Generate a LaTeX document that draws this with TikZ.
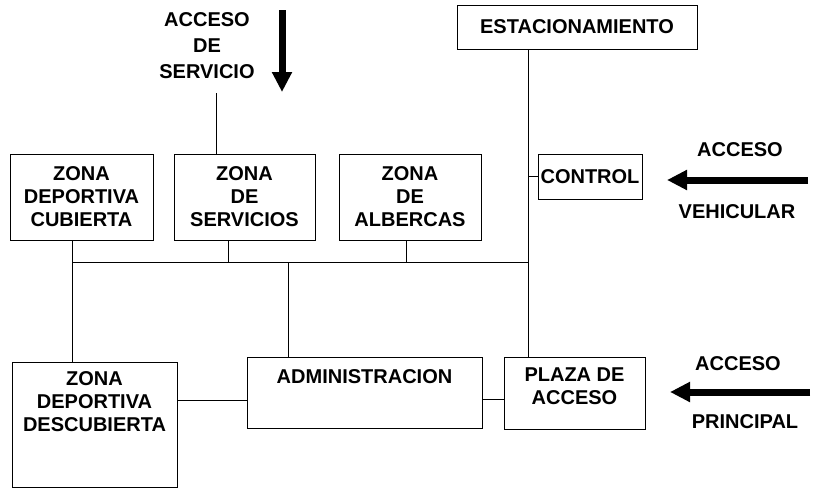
\documentclass[tikz,border=0pt]{standalone}
\usepackage{fontspec}
\setmainfont{Liberation Sans}
\usetikzlibrary{positioning,
                arrows.meta}
\tikzset{zone/.style =
   {rectangle,
    draw,
    line width=0.8pt,
    align=center,
    inner sep=2pt}}
\tikzset{boxtext/.style = {align=center, inner sep=3pt}}
\tikzset{link/.style = {draw, line width=0.8pt}}
\tikzset{bigarrow/.style = {draw, line width=7pt, -{Triangle[length=20pt,width=19pt]}}}

\begin{document}
\begin{tikzpicture}[x=1pt, y=-1pt, font=\fontsize{20}{23}\selectfont\bfseries]
    \useasboundingbox (0,0) rectangle (819,488);

    % upper row
    \node [zone, minimum width=240pt, minimum height=44pt] (estac) at (577,27) {ESTACIONAMIENTO};
    \node [zone, minimum width=143pt, minimum height=86pt] (cub) at (81.5,197)
     {ZONA\\DEPORTIVA\\CUBIERTA};
    \node [zone, minimum width=141pt, minimum height=86pt] (serv) at (244.5,197)
     {ZONA\\DE\\SERVICIOS};
    \node [zone, minimum width=142pt, minimum height=86pt] (alb) at (410,197)
     {ZONA\\DE\\ALBERCAS};
    \node [zone, minimum width=104pt, minimum height=45pt, inner xsep=1pt] (control) at (590,176.5)
     {CONTROL};

    % lower row
    \node [zone, minimum width=165pt, minimum height=125pt,
           label={[boxtext, anchor=north, yshift=-7pt]north:{ZONA\\DEPORTIVA\\DESCUBIERTA}}]
     (desc) at (94.5,424.5) {};
    \node [zone, minimum width=235pt, minimum height=71pt,
           label={[boxtext, anchor=north, yshift=-10pt]north:ADMINISTRACION}]
     (admin) at (364.5,392.5) {};
    \node [zone, minimum width=141pt, minimum height=72pt,
           label={[boxtext, anchor=north, yshift=-8pt]north:{PLAZA DE\\ACCESO}}]
     (plaza) at (574.5,393) {};

    % accesses
    \node [boxtext, font=\fontsize{20}{26}\selectfont\bfseries] (srv txt) at (207,46) {ACCESO\\DE\\SERVICIO};
    \node [boxtext] (veh top) at (740,150) {ACCESO};
    \node [boxtext] (veh bot) at (737,212) {VEHICULAR};
    \node [boxtext] (pri top) at (738,364) {ACCESO};
    \node [boxtext] (pri bot) at (745,422) {PRINCIPAL};

    \coordinate (srv from) at (282,10);
    \coordinate (srv to)   at (282,92);
    \coordinate (veh from) at (808,180);
    \coordinate (veh to)   at (667,180);
    \coordinate (pri from) at (810,392);
    \coordinate (pri to)   at (670,392);

    \draw [bigarrow] (srv from) -- (srv to);
    \draw [bigarrow] (veh from) -- (veh to);
    \draw [bigarrow] (pri from) -- (pri to);

    % connections
    \coordinate (srv in) at (216,93);
    \coordinate (spine)  at (528,0);
    \coordinate (bus w)  at (72,262);
    \coordinate (bus e)  at (528,262);
    \coordinate (t serv) at (228,262);
    \coordinate (t alb)  at (406,262);
    \coordinate (t adm)  at (288,262);

    \draw [link] (srv in) -- (srv in |- serv.north);
    \draw [link] (estac.south -| spine) -- (plaza.north -| spine);
    \draw [link] (control.west) -- (control.west -| spine);
    \draw [link] (bus w) -- (bus e);
    \draw [link] (cub.south -| bus w) -- (desc.north -| bus w);
    \draw [link] (t serv) -- (t serv |- serv.south);
    \draw [link] (t alb) -- (t alb |- alb.south);
    \draw [link] (t adm) -- (t adm |- admin.north);
    \draw [link] ([yshift=-8pt]admin.west) -- ([yshift=-8pt]admin.west -| desc.east);
    \draw [link] ([yshift=-7pt]admin.east) -- ([yshift=-7pt]admin.east -| plaza.west);

\end{tikzpicture}
\end{document}
